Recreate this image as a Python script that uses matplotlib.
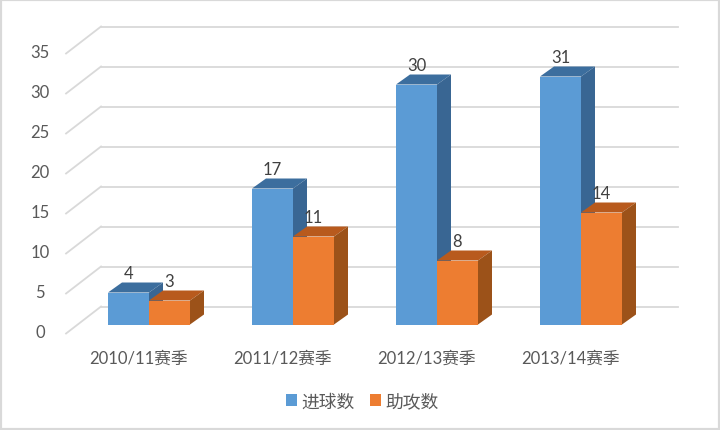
import matplotlib
matplotlib.use("Agg")
import matplotlib.pyplot as plt
from matplotlib.patches import Patch, Polygon, Rectangle

plt.rcParams['font.family'] = ['Lato', 'Noto Sans CJK SC', 'DejaVu Sans']

seasons = ['2010/11赛季', '2011/12赛季', '2012/13赛季', '2013/14赛季']
goals = [4, 17, 30, 31]
assists = [3, 11, 8, 14]
y_ticks = [0, 5, 10, 15, 20, 25, 30, 35]
series_names = ['进球数', '助攻数']

BLUE = ('#5b9bd5', '#3c6e9e', '#396693')
ORANGE = ('#ed7d31', '#b85a1d', '#9c5219')
TEXT = '#595959'
GRID = '#d9d9d9'

# one category = 144 px, one unit = 8 px
BAR_W = 41 / 144
DEPTH_X = 14 / 144
DEPTH_Y = 10 / 8


def draw_bar(ax, left, value, colors):
    ax.bar(left, value, width=BAR_W, align='edge', color=colors[0], linewidth=0, zorder=3)
    right = left + BAR_W
    top = [(left, value), (right, value), (right + DEPTH_X, value + DEPTH_Y), (left + DEPTH_X, value + DEPTH_Y)]
    side = [(right, 0), (right + DEPTH_X, DEPTH_Y), (right + DEPTH_X, value + DEPTH_Y), (right, value)]
    ax.add_patch(Polygon(top, closed=True, facecolor=colors[1], linewidth=0, zorder=3))
    ax.add_patch(Polygon(side, closed=True, facecolor=colors[2], linewidth=0, zorder=3))


fig = plt.figure(figsize=(7.2, 4.31), dpi=100, facecolor='white')
ax = fig.add_axes([0, 0, 1, 1])
ax.set_xlim(-149 / 144, 571 / 144)
ax.set_ylim(-105.5 / 8, 325.5 / 8)
ax.axis('off')

# back wall gridlines and the slanted part on the left
for v in y_ticks:
    ax.plot([-0.333, 3.674], [v + 2.25, v + 2.25], color=GRID, lw=1.3, zorder=1)
    ax.plot([-0.576, -0.333], [v - 1.125, v + 2.25], color=GRID, lw=1.3, zorder=1)
    ax.text(-0.755, v - 0.95, str(v), ha='center', va='center', fontsize=12, color=TEXT)

for i in range(len(seasons)):
    draw_bar(ax, i - BAR_W, goals[i], BLUE)
    draw_bar(ax, i, assists[i], ORANGE)
    ax.text(i - BAR_W / 2, goals[i] + 2.4, str(goals[i]), ha='center', va='center', fontsize=12, color='#404040', zorder=4)
    ax.text(i + BAR_W / 2, assists[i] + 2.4, str(assists[i]), ha='center', va='center', fontsize=12, color='#404040', zorder=4)
    ax.text(i - 0.07, -4.1, seasons[i], ha='center', va='center', fontsize=12, color=TEXT)

handles = [Patch(facecolor=BLUE[0]), Patch(facecolor=ORANGE[0])]
ax.legend(handles, series_names, loc='center', bbox_to_anchor=(362.5 / 720, 1 - 402 / 431), ncol=2,
          frameon=False, fontsize=12.8, labelcolor=TEXT, handlelength=0.6, handleheight=0.6,
          handletextpad=0.24, columnspacing=0.9, borderaxespad=0)

# chart frame
fig.add_artist(Rectangle((0, 0), 1, 1, transform=fig.transFigure, fill=False, edgecolor='#d9d9d9', linewidth=3))

fig.savefig('out.png', dpi=100)
